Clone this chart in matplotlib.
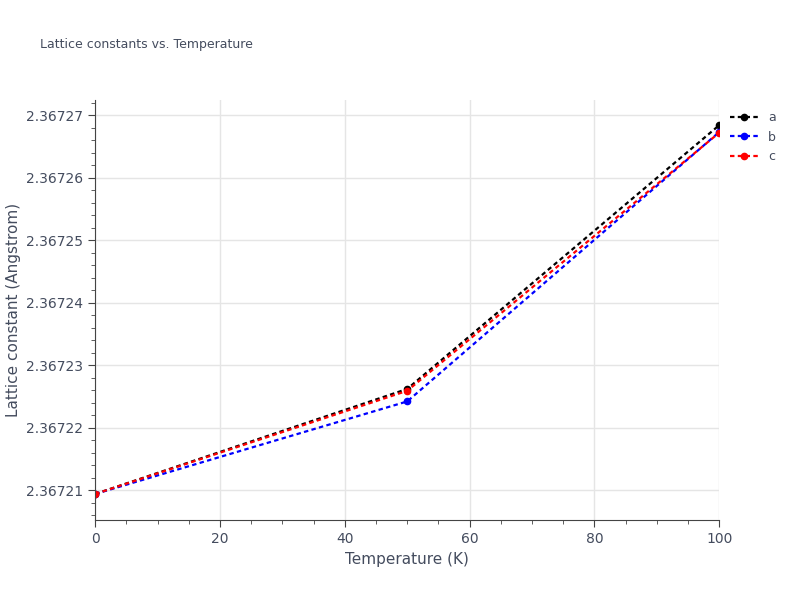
import matplotlib
matplotlib.use("Agg")
import matplotlib.pyplot as plt
from matplotlib.ticker import FormatStrFormatter, MultipleLocator

temps = [0, 50, 100]
a_vals = [2.3672094, 2.3672262, 2.3672684]
b_vals = [2.3672094, 2.3672242, 2.3672673]
c_vals = [2.3672094, 2.3672259, 2.3672672]

fig = plt.figure(figsize=(8, 6), dpi=100)
ax = fig.add_axes([0.119, 0.133, 0.780, 0.700])
grid = "#e5e5e5"
txt = "#444c5e"
for name, vals, col in [("a", a_vals, "black"), ("b", b_vals, "blue"), ("c", c_vals, "red")]:
    ax.plot(temps, vals, ls=(0, (2, 1.5)), lw=1.6, color=col, marker="o", ms=4.5, label=name)
ax.set_xlim(0, 100)
ax.set_ylim(2.3672052, 2.3672724)
ax.xaxis.set_major_locator(MultipleLocator(20))
ax.xaxis.set_minor_locator(MultipleLocator(5))
ax.yaxis.set_major_locator(MultipleLocator(0.00001))
ax.yaxis.set_minor_locator(MultipleLocator(0.000002))
ax.yaxis.set_major_formatter(FormatStrFormatter("%.5f"))
ax.grid(True, which="major", color=grid, lw=1)
for s in ["top", "right"]:
    ax.spines[s].set_visible(False)
for s in ["left", "bottom"]:
    ax.spines[s].set_color("#444444")
ax.tick_params(which="both", colors="#444444", labelcolor=txt, labelsize=10, direction="out")
ax.tick_params(which="major", length=5)
ax.tick_params(which="minor", length=3)
ax.set_xlabel("Temperature (K)", color=txt, fontsize=11)
ax.set_ylabel("Lattice constant (Angstrom)", color=txt, fontsize=11)
fig.text(0.05, 0.92, "Lattice constants vs. Temperature", color=txt, fontsize=9)
ax.legend(loc="upper left", bbox_to_anchor=(1.0, 1.0), frameon=False, fontsize=9,
          labelcolor=txt, handlelength=2.2)
fig.savefig("out.png")
